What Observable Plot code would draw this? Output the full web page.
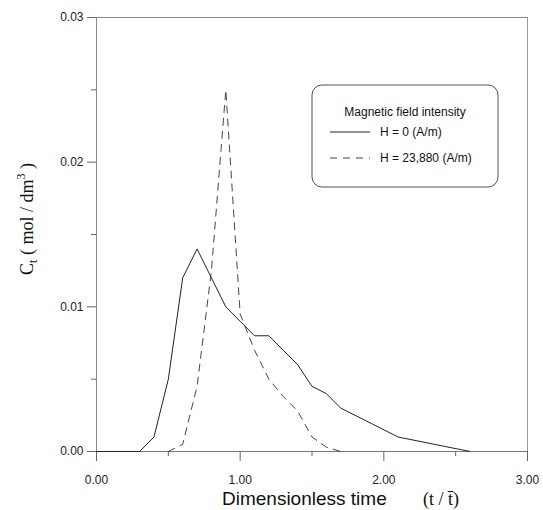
<!DOCTYPE html>
<html><head><meta charset="utf-8">
<script src="https://cdn.jsdelivr.net/npm/d3@7"></script>
<script src="https://cdn.jsdelivr.net/npm/@observablehq/plot@0.6"></script>
<style>body{margin:0;background:#fff} svg{display:block}</style>
</head><body><div id="chart"></div>
<script>
// Data
const timeH0 = [0, 0.3, 0.4, 0.5, 0.6, 0.7, 0.8, 0.9, 1.0, 1.1, 1.2, 1.3, 1.4, 1.5, 1.6, 1.7, 2.1, 2.6];
const concH0 = [0, 0, 0.001, 0.005, 0.012, 0.014, 0.012, 0.010, 0.009, 0.008, 0.008, 0.007, 0.006, 0.0045, 0.004, 0.003, 0.001, 0];
const timeH1 = [0.5, 0.6, 0.7, 0.8, 0.9, 1.0, 1.1, 1.2, 1.3, 1.4, 1.5, 1.6, 1.7];
const concH1 = [0, 0.0005, 0.0045, 0.0125, 0.025, 0.0095, 0.007, 0.005, 0.0038, 0.0028, 0.001, 0.0003, 0];
const seriesNames = ["H = 0 (A/m)", "H = 23,880 (A/m)"];
const legendTitle = "Magnetic field intensity";
const xTicks = [0, 1, 2, 3];
const xMinor = [0.5, 1.5, 2.5];
const yTicks = [0, 0.01, 0.02, 0.03];
const yMinor = [0.005, 0.015, 0.025];

const rows = [
  ...timeH0.map((t, i) => ({t, c: concH0[i], s: seriesNames[0]})),
  ...timeH1.map((t, i) => ({t, c: concH1[i], s: seriesNames[1]}))
];

const W = 543, H = 510;
const fmt = d3.format(".2f");
const plot = Plot.plot({
  width: W, height: H,
  marginLeft: 96, marginRight: 16, marginTop: 17, marginBottom: 59,
  style: {fontFamily: "'Liberation Sans', Arial, sans-serif", fontSize: "12px", color: "#222", background: "#fff"},
  x: {domain: [0, 3]},
  y: {domain: [0, 0.03]},
  marks: [
    Plot.ruleY([0.03], {stroke: "#888"}),
    Plot.ruleX([0], {stroke: "#888"}),
    Plot.ruleX([3], {stroke: "#999"}),
    Plot.ruleY([0], {stroke: "#777"}),
    Plot.axisX({ticks: xTicks, tickSize: 10, tickPadding: 14, tickFormat: fmt, label: null, stroke: "#666"}),
    Plot.axisX({ticks: xMinor, tickSize: 5, tickFormat: () => "", label: null, stroke: "#666"}),
    Plot.axisY({ticks: yTicks, tickSize: 9, tickPadding: 4, tickFormat: fmt, label: null, stroke: "#666"}),
    Plot.axisY({ticks: yMinor, tickSize: 5, tickFormat: () => "", label: null, stroke: "#666"}),
    Plot.line(rows.filter(d => d.s === seriesNames[0]), {x: "t", y: "c", stroke: "#222", strokeWidth: 1}),
    Plot.line(rows.filter(d => d.s === seriesNames[1]), {x: "t", y: "c", stroke: "#444", strokeWidth: 1, strokeDasharray: "7,6"})
  ]
});
document.getElementById("chart").append(plot);

const svg = d3.select(plot);
// X axis title
const xt = svg.append("text").attr("x", 222).attr("y", 505).attr("fill", "#111").attr("text-anchor", "start");
xt.append("tspan").attr("font-family", "'Liberation Sans', Arial, sans-serif").attr("font-size", 19).text("Dimensionless time");
xt.append("tspan").attr("x", 423).attr("font-family", "'Liberation Serif', 'Times New Roman', serif").attr("font-size", 18).text("(t / t\u0304)");

// Y axis title
const yt = svg.append("text").attr("transform", "translate(33,219) rotate(-90)").attr("text-anchor", "middle")
  .attr("font-family", "'Liberation Serif', 'Times New Roman', serif").attr("font-size", 18).attr("fill", "#111");
yt.append("tspan").text("C");
yt.append("tspan").attr("font-size", 12).attr("dy", 4).text("t");
yt.append("tspan").attr("dy", -4).text(" ( mol / dm");
yt.append("tspan").attr("font-size", 12).attr("dy", -8).text("3");
yt.append("tspan").attr("dy", 8).text(" )");

// Legend
const lg = svg.append("g").attr("font-family", "'Liberation Sans', Arial, sans-serif").attr("font-size", 12)
  .attr("fill", "#111").attr("text-anchor", "start");
lg.append("rect").attr("x", 312).attr("y", 85).attr("width", 186).attr("height", 102).attr("rx", 10)
  .attr("fill", "#fff").attr("stroke", "#555");
lg.append("text").attr("x", 405).attr("y", 116).attr("text-anchor", "middle").text(legendTitle);
const styles = [{stroke: "#222", dash: null}, {stroke: "#444", dash: "7,6"}];
seriesNames.forEach((name, i) => {
  const y = 132 + i * 26;
  lg.append("line").attr("x1", 330).attr("x2", 370).attr("y1", y).attr("y2", y)
    .attr("stroke", styles[i].stroke).attr("stroke-dasharray", styles[i].dash);
  lg.append("text").attr("x", 380).attr("y", y + 4).text(name);
});
</script>
</body></html>
